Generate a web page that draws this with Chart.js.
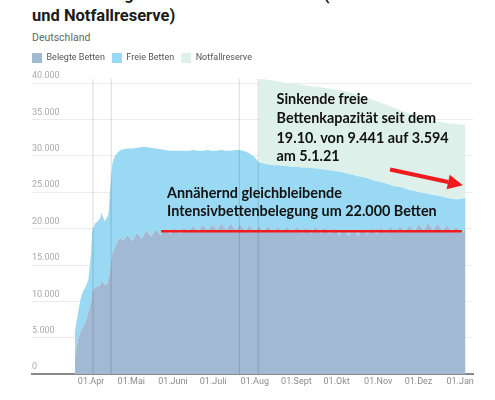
<!DOCTYPE html>
<html><head><meta charset="utf-8">
<script src="https://cdn.jsdelivr.net/npm/chart.js@4"></script>
<style>
html,body{margin:0;padding:0;background:#fff;}
body{width:495px;height:400px;position:relative;overflow:hidden;font-family:Roboto,sans-serif;}
#title{position:absolute;left:32px;top:-16px;font-weight:700;font-size:16.5px;line-height:21px;color:#1b1b1b;white-space:nowrap;}
#sub{position:absolute;left:32px;top:31px;font-size:10.5px;line-height:13px;color:#666;white-space:nowrap;}
canvas{position:absolute;left:0;top:0;}
</style></head><body>
<div id="title">Gesamtzahl gemeldeter Intensivbetten (Betreibbare Betten<br>und Notfallreserve)</div>
<div id="sub">Deutschland</div>
<canvas id="c" width="495" height="400"></canvas>
<script>
// ---- data ----
const dates = [
 "2020-03-20","2020-03-22","2020-03-24","2020-03-26","2020-03-28","2020-03-30","2020-04-01","2020-04-02","2020-04-04","2020-04-06",
 "2020-04-08","2020-04-09","2020-04-11","2020-04-13","2020-04-14","2020-04-15","2020-04-16","2020-04-17","2020-04-19","2020-04-21",
 "2020-04-23","2020-04-25",
 "2020-04-28","2020-05-02","2020-05-05","2020-05-09","2020-05-12","2020-05-16","2020-05-19","2020-05-23","2020-05-26","2020-05-30",
 "2020-06-02","2020-06-06","2020-06-09","2020-06-13","2020-06-16","2020-06-20","2020-06-23","2020-06-27","2020-06-30","2020-07-04",
 "2020-07-07","2020-07-11","2020-07-14","2020-07-18","2020-07-21","2020-07-25","2020-07-28","2020-08-01","2020-08-04","2020-08-08",
 "2020-08-11","2020-08-15","2020-08-18","2020-08-22","2020-08-25","2020-08-29","2020-09-01","2020-09-05","2020-09-08","2020-09-12",
 "2020-09-15","2020-09-19","2020-09-22","2020-09-26","2020-09-29","2020-10-03","2020-10-06","2020-10-10","2020-10-13","2020-10-17",
 "2020-10-20","2020-10-24","2020-10-27","2020-10-31","2020-11-03","2020-11-07","2020-11-10","2020-11-14","2020-11-17","2020-11-21",
 "2020-11-24","2020-11-28","2020-12-01","2020-12-05","2020-12-08","2020-12-12","2020-12-15","2020-12-19","2020-12-22","2020-12-26",
 "2020-12-29","2021-01-02","2021-01-05"
];
const belegte = [
 2400,4600,5800,6500,7200,8600,10000,11500,11900,12000,
 12300,13000,12300,12400,13300,14000,15500,16800,17500,18400,
 18700,18400,
 19100,18300,19400,18600,19700,18900,19900,19100,20000,19200,
 20100,19300,20200,19500,20400,19600,20500,19700,20600,19800,
 20700,19800,20700,19700,20600,19600,20500,19500,20400,19500,
 20400,19400,20300,19400,20300,19400,20300,19300,20200,19300,
 20300,19300,20200,19200,20200,19000,20000,18900,19900,19000,
 20000,19100,20100,19200,20200,19300,20300,19400,20400,19500,
 20500,19600,20600,19800,20800,19800,20700,19700,20500,19500,
 20300,19300,20100
];
const freie = [
 3500,3500,4400,4900,4800,4400,6500,8300,8800,9000,
 9200,9200,8700,9200,8700,10900,11700,12300,12500,12100,
 12100,12500,
 11900,12700,11700,12600,11500,12200,11100,11800,10800,11500,
 10600,11400,10500,11200,10400,11100,10200,11100,10100,10900,
 10100,10900,10000,11100,10200,11000,9800,10300,8700,9400,
 8400,9300,8400,9200,8300,9100,8200,9100,8200,9000,
 8000,8900,7900,8800,7700,8800,7700,8600,7500,8200,
 7100,7800,6600,7300,6200,6900,5700,6400,5300,6000,
 4800,5600,4400,5100,4000,4800,3800,4700,3700,4600,
 3700,4800,4100
];
const notfallreserve = [
 null,null,null,null,null,null,null,null,null,null,
 null,null,null,null,null,null,null,null,null,null,
 null,null,
 null,null,null,null,null,null,null,null,null,null,
 null,null,null,null,null,null,null,null,null,null,
 null,null,null,null,null,null,null,null,11400,11600,
 11600,11600,11500,11500,11400,11400,11400,11400,11300,11300,
 11200,11200,11200,11200,11200,11200,11200,11300,11200,11200,
 11100,11100,11000,11000,10900,10800,10800,10700,10600,10500,
 10500,10400,10400,10300,10200,10200,10200,10200,10300,10300,
 10400,10200,10100
];
const seriesNames = ["Belegte Betten","Freie Betten","Notfallreserve"];
const seriesColors = ["#a2b9d4","#9ad9f3","#ddf0ea"];
const monthStarts = ["2020-04-01","2020-05-01","2020-06-01","2020-07-01","2020-08-01","2020-09-01","2020-10-01","2020-11-01","2020-12-01","2021-01-01"];
const monthLabels = ["01.Apr","01.Mai","01.Juni","01.Juli","01.Aug","01.Sept","01.Okt","01.Nov","01.Dez","01.Jan"];
const yTicks = [0,5000,10000,15000,20000,25000,30000,35000,40000];
// vertical marker lines (day index since 1 Jan 2020)
const markerDays = [92.5, 106, 201.5, 215.6];
// annotations in data coordinates (day index, beds)
const refLine = {from: 143.2, to: 367.4, value: 19650};
const arrow = {x0: 313.8, y0: 28110, x1: 368.0, y1: 25970};
const noteA = {x: 147.6, y: [24250, 21780], lines: ["Annähernd gleichbleibende","Intensivbettenbelegung um 22.000 Betten"]};
const noteB = {x: 229.2, y: [37070, 34470, 31820, 29230], lines: ["Sinkende freie","Bettenkapazität seit dem","19.10. von 9.441 auf 3.594","am 5.1.21"]};

// ---- chart ----
const toDay = s => { const [y,m,d] = s.split('-').map(Number); return (Date.UTC(y,m-1,d) - Date.UTC(2020,0,1)) / 864e5; };
const xs = dates.map(toDay);
const monthDays = monthStarts.map(toDay);
const pts = arr => arr.map((v,i) => ({x: xs[i], y: v}));
const fmt = v => String(v).replace(/\B(?=(\d{3})+(?!\d))/g, '.');
const RED = '#ee1c1c';

const legendGap = {
  id: 'legendGap',
  afterInit(chart) {
    const lg = chart.legend;
    if (!lg) return;
    const fit = lg.fit;
    lg.fit = function () { fit.call(this); this.height += 6; };
  }
};

const overlay = {
  id: 'overlay',
  afterDatasetsDraw(chart) {
    const {ctx, chartArea: a, scales: {x}} = chart;
    ctx.save();
    ctx.strokeStyle = 'rgba(0,0,0,0.12)';
    ctx.lineWidth = 1.2;
    markerDays.forEach(d => {
      const px = x.getPixelForValue(d);
      ctx.beginPath(); ctx.moveTo(px, a.top); ctx.lineTo(px, a.bottom); ctx.stroke();
    });
    ctx.restore();
  },
  afterDraw(chart) {
    const {ctx, scales: {x, y}} = chart;
    ctx.save();
    ctx.strokeStyle = RED; ctx.lineWidth = 2.5;
    ctx.beginPath();
    ctx.moveTo(x.getPixelForValue(refLine.from), y.getPixelForValue(refLine.value));
    ctx.lineTo(x.getPixelForValue(refLine.to), y.getPixelForValue(refLine.value));
    ctx.stroke();
    const ax0 = x.getPixelForValue(arrow.x0), ay0 = y.getPixelForValue(arrow.y0);
    const ax1 = x.getPixelForValue(arrow.x1), ay1 = y.getPixelForValue(arrow.y1);
    const ang = Math.atan2(ay1 - ay0, ax1 - ax0);
    const hl = 15, hw = 7.5;
    const bx = ax1 - hl * Math.cos(ang), by = ay1 - hl * Math.sin(ang);
    ctx.lineWidth = 4; ctx.lineCap = 'butt';
    ctx.beginPath(); ctx.moveTo(ax0, ay0); ctx.lineTo(bx, by); ctx.stroke();
    ctx.fillStyle = RED;
    ctx.beginPath();
    ctx.moveTo(ax1, ay1);
    ctx.lineTo(bx + hw * Math.sin(ang), by - hw * Math.cos(ang));
    ctx.lineTo(bx - hw * Math.sin(ang), by + hw * Math.cos(ang));
    ctx.closePath(); ctx.fill();
    ctx.fillStyle = '#111';
    ctx.font = 'bold 14.4px Lato';
    ctx.textAlign = 'left'; ctx.textBaseline = 'alphabetic';
    [noteA, noteB].forEach(n => n.lines.forEach((t, i) => ctx.fillText(t, x.getPixelForValue(n.x), y.getPixelForValue(n.y[i]))));
    ctx.restore();
  }
};

const ds = (i, data, fill) => ({
  label: seriesNames[i], data, fill,
  backgroundColor: seriesColors[i], borderColor: 'transparent', borderWidth: 0,
  pointRadius: 0, pointHoverRadius: 0, tension: 0, spanGaps: false
});

new Chart(document.getElementById('c'), {
  type: 'line',
  data: { datasets: [ ds(0, pts(belegte), 'origin'), ds(1, pts(freie), '-1'), ds(2, pts(notfallreserve), '-1') ] },
  options: {
    responsive: false, animation: false,
    layout: { padding: { top: 46, left: 25, right: 22, bottom: 11 } },
    plugins: {
      tooltip: { enabled: false },
      legend: { display: true, position: 'top', align: 'start',
        labels: { boxWidth: 10, boxHeight: 10, padding: 7, color: '#555', font: { family: 'Roboto', size: 9 } } }
    },
    scales: {
      x: { type: 'linear', min: 47, max: 375.6,
        afterBuildTicks: s => { s.ticks = monthDays.map(v => ({value: v})); },
        ticks: { autoSkip: false, maxRotation: 0, padding: 2, color: '#8c8c8c', font: { family: 'Roboto', size: 9 },
          callback: (v, i) => monthLabels[i] },
        grid: { display: false, drawTicks: false },
        border: { display: true, color: '#8a8a8a', width: 2 }
      },
      y: { stacked: true, min: 0, max: 40550, z: 1,
        afterBuildTicks: s => { s.ticks = yTicks.map(v => ({value: v})); },
        afterFit: s => { s.width = 7; },
        ticks: { mirror: true, padding: 0, labelOffset: -7, color: '#aaa', font: { family: 'Roboto', size: 9 }, callback: v => fmt(v) },
        grid: { color: 'rgba(0,0,0,0.08)', lineWidth: 1, drawTicks: false },
        border: { display: false }
      }
    }
  },
  plugins: [legendGap, overlay]
});
</script>
</body></html>
